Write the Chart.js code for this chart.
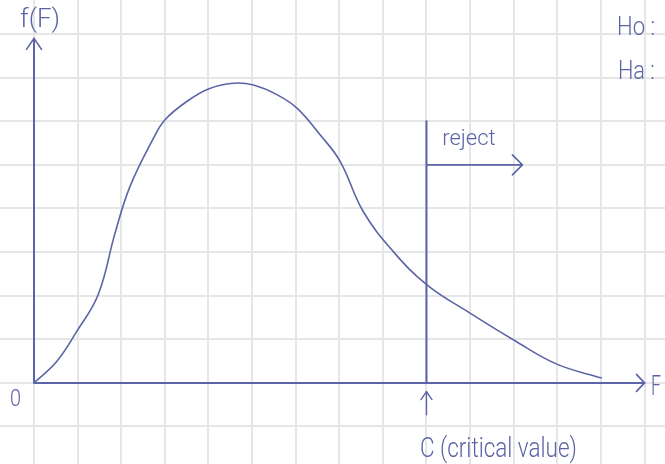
<!DOCTYPE html>
<html>
<head>
<meta charset="utf-8">
<script src="https://cdn.jsdelivr.net/npm/chart.js@4.4.1/dist/chart.umd.min.js"></script>
<style>
  html, body { margin: 0; padding: 0; background: #fff; }
  #wrap { width: 665px; height: 464px; }
</style>
</head>
<body>
<div id="wrap"><canvas id="chart" width="665" height="464"></canvas></div>
<script>
// density curve f(F), one grid square = 1 unit
const curveX = [0, 0.52, 0.98, 1.47, 1.86, 2.2, 2.74, 3.0, 3.5, 4.0, 4.57, 5.03, 5.57, 6.03, 6.56, 7.02, 7.55, 8.24, 9.01, 10.0, 10.99, 11.99, 13.02];
const curveY = [0, 0.49, 1.18, 2.02, 3.44, 4.5, 5.61, 6.03, 6.45, 6.74, 6.87, 6.83, 6.61, 6.3, 5.69, 5.08, 3.93, 3.01, 2.25, 1.6, 0.99, 0.43, 0.11];

// axes and rejection region
const xAxisEnd = 14;
const yAxisTop = 7.9;
const criticalValue = 9;
const criticalTop = 6;
const rejectLevel = 5;
const rejectEnd = 11.2;
const markerTop = -0.2;
const markerBottom = -0.73;

// hand-written labels: text, left x, baseline y (chart units)
const labelTexts = ['f(F)', 'Ho :', 'Ha :', 'reject', '0', 'F', 'C (critical value)'];
const labelX = [-0.32, 13.37, 13.39, 9.36, -0.55, 14.15, 8.85];
const labelY = [8.17, 7.98, 6.97, 5.46, -0.53, -0.28, -1.70];

const ink = '#5b64a6';
const labelStyle = [
  { size: 26, width: 40 },
  { size: 25, width: 38 },
  { size: 25, width: 37 },
  { size: 22, width: 56 },
  { size: 24, width: 11 },
  { size: 27, width: 10 },
  { size: 27, width: 157 }
];

function arrowHead(ctx, tipX, tipY, dx, dy, len, half) {
  // dx, dy: unit direction of the arrow
  const bx = tipX - dx * len;
  const by = tipY - dy * len;
  ctx.beginPath();
  ctx.moveTo(bx - dy * half, by + dx * half);
  ctx.lineTo(tipX, tipY);
  ctx.lineTo(bx + dy * half, by - dx * half);
  ctx.stroke();
}

const sketchPlugin = {
  id: 'sketch',
  afterDatasetsDraw(chart) {
    const ctx = chart.ctx;
    const xs = chart.scales.x;
    const ys = chart.scales.y;
    const px = v => xs.getPixelForValue(v);
    const py = v => ys.getPixelForValue(v);

    ctx.save();
    ctx.strokeStyle = ink;
    ctx.lineCap = 'round';
    ctx.lineJoin = 'round';

    // axes
    ctx.lineWidth = 2;
    ctx.beginPath();
    ctx.moveTo(px(0), py(yAxisTop));
    ctx.lineTo(px(0), py(0));
    ctx.lineTo(px(xAxisEnd), py(0));
    ctx.stroke();
    ctx.lineWidth = 1.6;
    arrowHead(ctx, px(0), py(yAxisTop), 0, -1, 11, 7.5);
    arrowHead(ctx, px(xAxisEnd), py(0), 1, 0, 8, 8.5);

    // critical value line and reject arrow
    ctx.lineWidth = 2;
    ctx.beginPath();
    ctx.moveTo(px(criticalValue), py(criticalTop));
    ctx.lineTo(px(criticalValue), py(0));
    ctx.stroke();
    ctx.lineWidth = 1.6;
    ctx.beginPath();
    ctx.moveTo(px(criticalValue), py(rejectLevel));
    ctx.lineTo(px(rejectEnd), py(rejectLevel));
    ctx.stroke();
    arrowHead(ctx, px(rejectEnd), py(rejectLevel), 1, 0, 10, 10);

    // small marker arrow under C
    ctx.lineWidth = 1.4;
    ctx.beginPath();
    ctx.moveTo(px(criticalValue), py(markerBottom));
    ctx.lineTo(px(criticalValue), py(markerTop));
    ctx.stroke();
    arrowHead(ctx, px(criticalValue), py(markerTop), 0, -1, 8, 5.5);

    // labels
    ctx.fillStyle = ink;
    ctx.textAlign = 'left';
    ctx.textBaseline = 'alphabetic';
    labelTexts.forEach((t, i) => {
      const st = labelStyle[i];
      ctx.font = '300 ' + st.size + 'px Roboto, "DejaVu Sans", sans-serif';
      ctx.fillText(t, px(labelX[i]), py(labelY[i]), st.width);
    });
    ctx.restore();
  }
};

const gridOpts = {
  color: '#e6e6e6',
  lineWidth: 2,
  drawTicks: false
};

new Chart(document.getElementById('chart').getContext('2d'), {
  type: 'scatter',
  data: {
    datasets: [{
      data: curveX.map((x, i) => ({ x: x, y: curveY[i] })),
      showLine: true,
      borderColor: ink,
      borderWidth: 1.6,
      pointRadius: 0,
      tension: 0.4,
      fill: false
    }]
  },
  options: {
    responsive: false,
    animation: false,
    devicePixelRatio: 1,
    layout: { padding: 0 },
    plugins: {
      legend: { display: false },
      tooltip: { enabled: false }
    },
    scales: {
      x: {
        type: 'linear',
        min: -0.78,
        max: 14.47,
        ticks: { display: false, stepSize: 1, includeBounds: false },
        grid: gridOpts,
        border: { display: false }
      },
      y: {
        type: 'linear',
        min: -1.86,
        max: 8.78,
        ticks: { display: false, stepSize: 1, includeBounds: false },
        grid: gridOpts,
        border: { display: false }
      }
    }
  },
  plugins: [sketchPlugin]
});
</script>
</body>
</html>
